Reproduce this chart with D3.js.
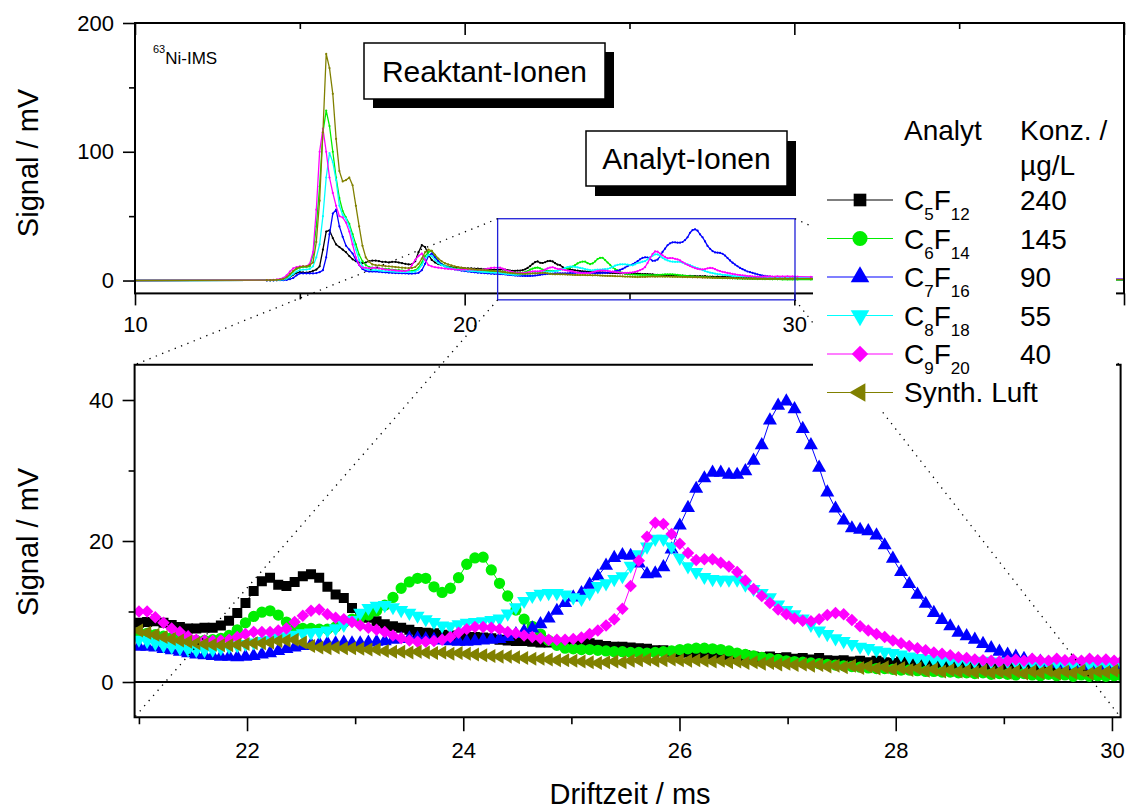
<!DOCTYPE html>
<html><head><meta charset="utf-8">
<script src="https://cdn.jsdelivr.net/npm/d3@7"></script>
<style>
body{margin:0;background:#fff}
svg{font-family:"Liberation Sans",Arial,sans-serif}
</style>
</head><body>
<svg id="c" width="1130" height="809"></svg>
<script>
// ---------------- DATA ----------------
const seriesNames = ["C5F12","C6F14","C7F16","C8F18","C9F20","Synth. Luft"];
const formulaParts = [["C","5","F","12"],["C","6","F","14"],["C","7","F","16"],["C","8","F","18"],["C","9","F","20"],null];
const concentrations = ["240","145","90","55","40",""];
const seriesColors = ["#000000","#00ee00","#0000ff","#00ffff","#ff00ff","#808000"];
const seriesSymbols = ["square","circle","triUp","triDown","diamond","triLeft"];

const topYTicks = [0,100,200], topYMinor = [50,150];
const topXTicks = [10,20,30,40], topXMinor = [15,25,35];
const topXLabels = ["10","20","30",""];
const botYTicks = [0,20,40], botYMinor = [10,30];
const botXTicks = [22,24,26,28,30], botXMinor = [21,23,25,27,29];

// early part of the spectra (top panel only): t = 10, then 14.0 ... 20.9 step 0.1
const earlyTimes = [10].concat(d3.range(70).map(i => +(14 + i*0.1).toFixed(1)));
const c5f12Early = [0,
 0.2,0.2,0.3,0.3,0.4,0.6,1.2,2.5,4.5,6.0,
 6.5,6.3,6.2,6.6,7.5,8.5,11,24,38,39,
 33,28,26,24,22,19,16.5,15,14,13.5,
 14,15,15.5,15.5,15,14.5,14.5,14,14.5,14.5,
 14,13.5,13,12.5,12.5,15,22,27.5,26,20,
 16,14,12.8,12,11.3,10.8,10.4,10.1,9.9,9.8,
 9.6,9.5,9.4,9.3,9.2,9.0,8.9,8.8,8.6,8.5];
const c6f14Early = [0,
 0.2,0.2,0.3,0.4,0.6,1.0,2.0,4.0,7.0,9.0,
 10,10.5,10.5,11,20,42,73,115,132,120,
 100,80,64,54,49,44,36,28,20,15,
 12,10.5,10,9.8,9.5,9.2,9,8.8,8.5,8.2,
 8,7.8,7.6,7.5,7.5,8,10,14,19,22,
 23,19,15,13,11.5,10.5,10,9.5,9,8.7,
 8.4,8.2,8,7.8,7.6,7.5,7.4,7.3,7.2,7.1];
const c7f16Early = [0,
 0.1,0.1,0.1,0.2,0.2,0.3,0.5,1.0,2.0,4.0,
 5.5,5.5,5.5,5.5,5.5,5.8,6.5,8,18,36,
 52,55,42,34,27,24,21,16,12,9,
 7.5,7,7,7,6.8,6.5,6.3,6.1,6,5.8,
 5.7,5.6,5.5,5.4,5.4,5.5,6,8,13,19,
 21,18,15,12.5,11,10,9.2,8.6,8.1,7.7,
 7.3,7,6.7,6.4,6.1,5.9,5.7,5.5,5.3,5.1];
const c8f18Early = [0,
 0.2,0.2,0.3,0.3,0.5,0.8,1.5,3,5,7,
 8,8.5,8.5,9,11,18,28,50,80,99,
 92,78,58,51,48,42,33,24,16,11,
 9,8.5,8,8,7.8,7.5,7.3,7.2,7,6.8,
 6.7,6.6,6.5,6.5,6.6,7,8.5,12,17,20,
 19,16,13.5,12,11,10,9.4,8.9,8.5,8.2,
 7.9,7.6,7.4,7.2,7,6.8,6.6,6.4,6.2,6.1];
const c9f20Early = [0,
 0.3,0.4,0.5,0.8,1.2,2,4,7,9.5,10.5,
 11,11,11,13,22,55,100,118,100,80,
 68,58,50,49,45,38,28,18,12,10,
 10,9.5,9.8,10,9.5,9,8.5,8.2,8,7.8,
 7.6,7.4,7.3,8,12,16,19,21,16,12,
 11,10.3,10,9.6,9.3,9,8.8,8.6,8.5,8.4,
 8.4,8.5,8.6,8.5,8.3,8.2,8.6,9.2,9.8,10.0];
const luftEarly = [0,
 0.3,0.3,0.4,0.5,0.8,1.2,2.5,5,7.5,9.5,
 10.5,11,11,12,14,30,62,115,176,165,
 145,110,85,77,78,80,74,58,42,27,
 18,14.5,12.5,12,11.8,11.5,11.2,11,10.8,10.5,
 10.2,10,9.8,9.7,9.8,10.5,13,17,22,24,
 23,20,17,15,13.5,12.5,11.7,11,10.5,10,
 9.6,9.3,9,8.7,8.5,8.3,8.1,7.9,7.7,7.5];

// detailed part (both panels): 121 samples from 21 ms
const detailTimes = d3.range(121).map(i => 21 + i*0.0758);
const c5f12Detail = [8.4,8.5,8.6,8.4,8.1,7.8,7.6,7.6,7.7,7.7,
 8.0,8.7,9.8,11.2,12.9,14.3,14.8,13.8,13.6,14.2,
 15.0,15.3,14.8,13.5,12.4,11.9,10.5,9.6,9.1,8.6,
 8.2,7.9,7.7,7.4,7.1,7.0,6.9,6.7,6.6,6.5,
 6.4,6.4,6.3,6.2,6.0,5.9,5.8,5.8,5.7,5.6,
 5.6,5.5,5.5,5.6,5.4,5.5,5.3,5.1,5.0,5.0,
 4.9,4.8,4.7,4.5,4.5,4.3,4.2,4.2,4.1,4.0,
 3.9,4.0,3.8,3.7,3.8,3.6,3.5,3.6,3.4,3.5,
 3.3,3.4,3.2,3.4,3.1,3.0,3.1,2.9,3.0,2.8,
 3.0,2.8,2.7,2.9,2.6,2.8,2.6,2.5,2.7,2.5,
 2.4,2.6,2.3,2.5,2.3,2.2,2.4,2.2,2.1,2.3,
 2.0,2.2,2.0,2.1,1.9,2.1,1.9,2.0,1.8,2.0,
 1.9];
const c6f14Detail = [7.0,6.9,6.7,6.5,6.3,6.2,6.0,5.9,5.9,6.0,
 6.2,6.6,7.4,8.4,9.3,9.9,10.1,9.5,8.5,7.8,
 7.6,7.6,7.5,7.5,7.8,8.4,8.9,9.2,9.5,10.1,
 10.9,12.0,13.3,14.2,14.7,14.7,13.5,12.7,13.3,14.8,
 16.7,17.6,17.7,15.9,14.0,12.2,10.2,8.9,7.9,6.8,
 5.9,5.2,4.8,4.7,4.6,4.6,4.5,4.4,4.3,4.3,
 4.2,4.2,4.1,4.2,4.3,4.4,4.6,4.7,4.8,4.8,
 4.7,4.6,4.4,4.1,3.9,3.7,3.5,3.3,3.2,3.0,
 2.9,2.8,2.7,2.6,2.5,2.4,2.3,2.2,2.1,2.0,
 1.9,1.9,1.8,1.7,1.7,1.6,1.5,1.5,1.4,1.4,
 1.3,1.3,1.2,1.3,1.1,1.2,1.1,1.0,1.2,1.0,
 0.9,1.1,0.9,1.0,0.8,1.0,0.8,0.9,0.8,0.9,
 0.8];
const c7f16Detail = [5.0,5.0,4.9,4.7,4.5,4.3,4.1,3.9,3.8,3.7,
 3.6,3.6,3.5,3.6,3.7,3.9,4.1,4.4,4.7,4.9,
 5.1,5.3,5.4,5.5,5.5,5.6,5.5,5.5,5.6,5.7,
 5.8,6.0,6.1,6.2,6.2,6.1,6.0,5.9,5.8,5.7,
 5.7,5.8,5.9,6.0,6.1,6.4,6.8,7.2,7.6,8.2,
 9.0,10.1,11.2,12.0,12.6,13.8,15.0,16.5,17.6,18.0,
 17.9,16.8,15.3,15.4,16.3,18.8,22.2,24.7,27.4,28.9,
 29.7,29.7,29.4,29.4,29.9,31.4,33.6,37.1,39.2,39.8,
 38.7,35.9,33.6,30.4,26.9,24.6,22.9,21.8,21.6,21.4,
 20.8,19.4,17.5,15.6,13.9,12.4,11.1,9.8,8.8,7.9,
 7.0,6.5,6.0,5.4,4.8,4.3,3.9,3.6,3.3,3.0,
 2.9,2.7,2.6,2.5,2.4,2.3,2.3,2.2,2.1,2.1,
 2.0];
const c8f18Detail = [6.0,5.8,5.5,5.2,5.0,4.8,4.6,4.5,4.5,4.6,
 4.8,5.0,5.2,5.4,5.6,5.8,6.0,6.3,6.5,6.7,
 6.9,7.0,7.1,7.3,7.6,8.1,8.8,9.8,10.5,10.8,
 10.9,10.6,10.2,9.8,9.4,8.9,8.5,8.0,7.9,8.2,
 8.4,8.5,8.6,8.8,9.0,9.7,10.6,11.5,12.2,12.5,
 12.6,12.6,12.4,12.0,11.8,12.6,13.6,14.0,14.6,15.0,
 16.5,18.1,19.2,20.3,20.3,19.2,17.6,16.4,15.6,14.9,
 14.6,14.5,14.5,14.5,13.8,13.2,12.6,12.0,11.0,10.2,
 9.6,9.0,8.1,7.3,6.8,6.2,5.8,5.4,5.0,4.8,
 4.5,4.3,4.1,3.9,3.6,3.4,3.3,3.2,3.1,3.1,
 3.0,3.0,2.9,3.0,2.9,2.8,2.9,2.8,2.7,2.8,
 2.7,2.6,2.7,2.6,2.5,2.6,2.5,2.5,2.6,2.5,
 2.5];
const c9f20Detail = [10.0,10.0,9.2,8.4,7.6,7.1,6.5,6.0,5.9,5.8,
 5.9,6.0,6.4,6.8,7.1,7.1,7.1,7.3,7.6,8.5,
 9.4,10.1,10.3,9.6,9.1,8.9,8.5,8.0,7.7,7.4,
 7.1,6.6,6.2,5.9,5.7,5.7,5.8,6.0,6.4,7.0,
 7.5,7.8,7.8,7.7,7.5,7.1,6.9,6.6,6.4,6.2,
 6.0,6.0,6.0,6.1,6.3,6.8,7.3,8.0,8.9,10.4,
 13.6,17.2,20.6,22.6,22.4,21.0,19.6,18.3,17.3,17.4,
 17.4,16.9,16.4,15.6,14.4,13.2,12.2,11.2,10.3,9.6,
 9.0,8.7,8.6,8.9,9.5,9.8,9.6,8.8,7.9,7.3,
 6.8,6.4,5.9,5.5,5.1,4.8,4.5,4.2,4.0,3.8,
 3.5,3.4,3.2,3.1,3.0,2.9,3.0,3.2,3.0,3.3,
 3.1,3.0,3.3,3.1,3.2,3.0,3.3,3.1,3.2,3.0,
 3.1];
const luftDetail = [7.3,7.0,6.7,6.4,6.1,5.9,5.7,5.5,5.4,5.3,
 5.2,5.2,5.3,5.4,5.5,5.5,5.6,5.8,5.9,6.0,
 5.6,5.1,4.9,4.8,4.9,4.8,4.8,4.7,4.6,4.6,
 4.4,4.3,4.3,4.2,4.3,4.2,4.1,4.2,4.0,4.1,
 4.0,3.9,3.8,3.7,3.6,3.6,3.5,3.4,3.3,3.3,
 3.2,3.1,3.1,3.0,2.9,2.8,2.7,2.8,2.9,2.8,
 3.0,3.1,3.2,3.0,3.1,3.2,3.1,3.0,3.1,3.0,
 2.9,3.0,2.8,2.9,2.7,2.8,2.6,2.7,2.5,2.6,
 2.4,2.5,2.3,2.4,2.2,2.3,2.1,2.3,2.0,2.2,
 1.9,2.1,1.8,2.0,1.7,1.9,1.6,1.8,1.5,1.7,
 1.5,1.6,1.4,1.6,1.3,1.5,1.3,1.5,1.2,1.5,
 1.3,1.6,1.2,1.5,1.3,1.6,1.2,1.5,1.4,1.6,
 1.5];

// late part (top panel only): 30.5 ... 40 step 0.5
const lateTimes = d3.range(20).map(i => 30.5 + i*0.5);
const c5f12Late = [1.9,1.8,1.8,1.7,1.7,1.6,1.6,1.5,1.5,1.4,1.4,1.3,1.3,1.2,1.2,1.1,1.1,1.0,1.0,1.0];
const c6f14Late = [0.8,0.8,0.7,0.7,0.7,0.6,0.6,0.6,0.5,0.5,0.5,0.5,0.4,0.4,0.4,0.4,0.4,0.3,0.3,0.3];
const c7f16Late = [1.9,1.8,1.7,1.6,1.5,1.5,1.4,1.3,1.3,1.2,1.2,1.1,1.1,1.0,1.0,1.0,0.9,0.9,0.9,0.8];
const c8f18Late = [2.4,2.3,2.2,2.1,2.0,1.9,1.8,1.7,1.6,1.6,1.5,1.4,1.4,1.3,1.3,1.2,1.2,1.1,1.1,1.0];
const c9f20Late = [2.8,2.7,2.6,2.5,2.4,2.3,2.2,2.1,2.0,1.9,1.8,1.8,1.7,1.6,1.6,1.5,1.4,1.3,1.1,1.0];
const luftLate  = [1.4,1.4,1.3,1.3,1.2,1.2,1.1,1.1,1.0,1.0,1.0,0.9,0.9,0.9,0.8,0.8,0.8,0.8,0.7,0.7];

const earlyAll  = [c5f12Early,c6f14Early,c7f16Early,c8f18Early,c9f20Early,luftEarly];
const detailAll = [c5f12Detail,c6f14Detail,c7f16Detail,c8f18Detail,c9f20Detail,luftDetail];
const lateAll   = [c5f12Late,c6f14Late,c7f16Late,c8f18Late,c9f20Late,luftLate];

// zoom window drawn in the top panel
const zoomWin = {t0:21, t1:30.02, v0:-15, v1:48};

// ---------------- DRAW ----------------
const svg = d3.select("#c");
const topX = d3.scaleLinear().domain([10,40]).range([135,1124]);
const topY = d3.scaleLinear().domain([-10,200]).range([293.4,23]);
const botX = d3.scaleLinear().domain([20.96,30.08]).range([134.6,1120.6]);
const botY = d3.scaleLinear().domain([-5,45]).range([717.25,364.75]);

const defs = svg.append("defs");
defs.append("clipPath").attr("id","clipTop").append("rect")
  .attr("x",topX.range()[0]).attr("y",topY.range()[1])
  .attr("width",topX.range()[1]-topX.range()[0]).attr("height",topY.range()[0]-topY.range()[1]);
defs.append("clipPath").attr("id","clipBot").append("rect")
  .attr("x",botX.range()[0]).attr("y",botY.range()[1])
  .attr("width",botX.range()[1]-botX.range()[0]).attr("height",botY.range()[0]-botY.range()[1]);

function symPath(name, size){
  if(name==="square") return {d:d3.symbol().type(d3.symbolSquare).size(size)(), r:0};
  if(name==="circle") return {d:d3.symbol().type(d3.symbolCircle).size(size)(), r:0};
  if(name==="triUp") return {d:d3.symbol().type(d3.symbolTriangle).size(size)(), r:0};
  if(name==="triDown") return {d:d3.symbol().type(d3.symbolTriangle).size(size)(), r:180};
  if(name==="triLeft") return {d:d3.symbol().type(d3.symbolTriangle).size(size)(), r:-90};
  if(name==="diamond") return {d:d3.symbol().type(d3.symbolSquare).size(size)(), r:45};
}
const plotSizes = {square:100, circle:100, triUp:85, triDown:85, diamond:78, triLeft:85};
const legSizes  = {square:160, circle:180, triUp:150, triDown:150, diamond:135, triLeft:150};

function styleAxis(g, fs){
  g.select(".domain").remove();
  g.selectAll(".tick line").attr("stroke","#000").attr("stroke-width",1.6);
  g.selectAll(".tick text").attr("fill","#000").style("font-size",fs+"px")
   .style("font-family",'"Liberation Sans",Arial,sans-serif');
}

// ----- top panel -----
const gTop = svg.append("g");
const topData = seriesNames.map((n,k) => {
  const e = earlyTimes.map((t,i)=>[t, earlyAll[k][i]]);
  const d = detailTimes.map((t,i)=>[t, detailAll[k][i]]);
  const l = lateTimes.map((t,i)=>[t, lateAll[k][i]]);
  return e.concat(d,l);
});
const gTopData = gTop.append("g").attr("clip-path","url(#clipTop)");
const lineTop = d3.line().x(d=>topX(d[0])).y(d=>topY(d[1]));
topData.forEach((pts,k)=>{
  gTopData.append("path").attr("d",lineTop(pts)).attr("fill","none")
    .attr("stroke",seriesColors[k]).attr("stroke-width",1.3);
  gTopData.append("g").selectAll("circle").data(pts.slice(1)).join("circle")
    .attr("cx",d=>topX(d[0])).attr("cy",d=>topY(d[1])).attr("r",1.1).attr("fill",seriesColors[k]);
});
const yT = gTop.append("g").attr("transform",`translate(${topX.range()[0]},0)`)
  .call(d3.axisLeft(topY).tickValues(topYTicks).tickSize(12).tickPadding(9).tickFormat(d3.format("d")));
styleAxis(yT,22);
const yTm = gTop.append("g").attr("transform",`translate(${topX.range()[0]},0)`)
  .call(d3.axisLeft(topY).tickValues(topYMinor).tickSize(6).tickFormat(""));
styleAxis(yTm,22);
const xT = gTop.append("g").attr("transform",`translate(0,${topY.range()[0]})`)
  .call(d3.axisBottom(topX).tickValues(topXTicks).tickSize(12).tickPadding(11)
    .tickFormat((d,i)=>topXLabels[i]));
styleAxis(xT,22);
const xTm = gTop.append("g").attr("transform",`translate(0,${topY.range()[0]})`)
  .call(d3.axisBottom(topX).tickValues(topXMinor).tickSize(6).tickFormat(""));
styleAxis(xTm,22);
const xTt = gTop.append("g").attr("transform",`translate(0,${topY.range()[1]})`)
  .call(d3.axisTop(topX).tickValues(topXTicks).tickSize(-12).tickFormat(""));
styleAxis(xTt,22);
const xTtm = gTop.append("g").attr("transform",`translate(0,${topY.range()[1]})`)
  .call(d3.axisTop(topX).tickValues(topXMinor).tickSize(-6).tickFormat(""));
styleAxis(xTtm,22);
gTop.append("rect").attr("x",topX.range()[0]).attr("y",topY.range()[1])
  .attr("width",topX.range()[1]-topX.range()[0]).attr("height",topY.range()[0]-topY.range()[1])
  .attr("fill","none").attr("stroke","#000").attr("stroke-width",2);

gTop.append("rect").attr("x",topX(zoomWin.t0)).attr("y",topY(zoomWin.v1))
  .attr("width",topX(zoomWin.t1)-topX(zoomWin.t0)).attr("height",topY(zoomWin.v0)-topY(zoomWin.v1))
  .attr("fill","none").attr("stroke","#2020d8").attr("stroke-width",1.3);

const ni = gTop.append("text").attr("x",153).attr("y",64).style("font-size","17px");
ni.append("tspan").attr("dy",-11).style("font-size","11px").text("63");
ni.append("tspan").attr("dy",11).text("Ni-IMS");

function shadowBox(x,y,w,h,off,label,fs){
  gTop.append("rect").attr("x",x+off[0]).attr("y",y+off[1]).attr("width",w).attr("height",h).attr("fill","#000");
  gTop.append("rect").attr("x",x).attr("y",y).attr("width",w).attr("height",h)
    .attr("fill","#fff").attr("stroke","#000").attr("stroke-width",1.5);
  gTop.append("text").attr("x",x+w/2).attr("y",y+h/2+fs*0.36).attr("text-anchor","middle")
    .style("font-size",fs+"px").text(label);
}
shadowBox(364,43,241,56,[9,9],"Reaktant-Ionen",30);
shadowBox(586,131,201,55,[9,10],"Analyt-Ionen",30);

// ----- bottom panel -----
const gBot = svg.append("g");
const gBotData = gBot.append("g").attr("clip-path","url(#clipBot)");
gBotData.append("line").attr("x1",botX.range()[0]).attr("x2",botX.range()[1])
  .attr("y1",botY(0)).attr("y2",botY(0)).attr("stroke","#000").attr("stroke-width",2);
const lineBot = d3.line().x(d=>botX(d[0])).y(d=>botY(d[1]));
seriesNames.forEach((n,k)=>{
  const pts = detailTimes.map((t,i)=>[t, detailAll[k][i]]);
  gBotData.append("path").attr("d",lineBot(pts)).attr("fill","none")
    .attr("stroke",seriesColors[k]).attr("stroke-width",1);
  const s = symPath(seriesSymbols[k], plotSizes[seriesSymbols[k]]);
  gBotData.append("g").selectAll("path").data(pts).join("path")
    .attr("d",s.d).attr("fill",seriesColors[k])
    .attr("transform",d=>`translate(${botX(d[0])},${botY(d[1])}) rotate(${s.r})`);
});
const yB = gBot.append("g").attr("transform",`translate(${botX.range()[0]},0)`)
  .call(d3.axisLeft(botY).tickValues(botYTicks).tickSize(12).tickPadding(9).tickFormat(d3.format("d")));
styleAxis(yB,22);
const yBm = gBot.append("g").attr("transform",`translate(${botX.range()[0]},0)`)
  .call(d3.axisLeft(botY).tickValues(botYMinor).tickSize(6).tickFormat(""));
styleAxis(yBm,22);
const xB = gBot.append("g").attr("transform",`translate(0,${botY.range()[0]})`)
  .call(d3.axisBottom(botX).tickValues(botXTicks).tickSize(14).tickPadding(11).tickFormat(d3.format("d")));
styleAxis(xB,22);
const xBm = gBot.append("g").attr("transform",`translate(0,${botY.range()[0]})`)
  .call(d3.axisBottom(botX).tickValues(botXMinor).tickSize(7).tickFormat(""));
styleAxis(xBm,22);
gBot.append("rect").attr("x",botX.range()[0]).attr("y",botY.range()[1])
  .attr("width",botX.range()[1]-botX.range()[0]).attr("height",botY.range()[0]-botY.range()[1])
  .attr("fill","none").attr("stroke","#000").attr("stroke-width",2);

const conn = [
  [topX(zoomWin.t0), topY(zoomWin.v0), botX.range()[0], botY.range()[0]],
  [topX(zoomWin.t0), topY(zoomWin.v1), botX.range()[0], botY.range()[1]],
  [topX(zoomWin.t1), topY(zoomWin.v1), botX.range()[1], botY.range()[1]],
  [topX(zoomWin.t1), topY(zoomWin.v0), botX.range()[1], botY.range()[0]]
];
svg.append("g").selectAll("line").data(conn).join("line")
  .attr("x1",d=>d[0]).attr("y1",d=>d[1]).attr("x2",d=>d[2]).attr("y2",d=>d[3])
  .attr("stroke","#000").attr("stroke-width",1.3).attr("stroke-dasharray","1.3,5.5");

svg.append("text").attr("transform","translate(38,163) rotate(-90)").attr("text-anchor","middle")
  .style("font-size","29px").text("Signal / mV");
svg.append("text").attr("transform","translate(38,542) rotate(-90)").attr("text-anchor","middle")
  .style("font-size","29px").text("Signal / mV");
svg.append("text").attr("x",630).attr("y",804).attr("text-anchor","middle")
  .style("font-size","29px").text("Driftzeit / ms");

// ----- legend -----
const gL = svg.append("g");
gL.append("rect").attr("x",813).attr("y",100).attr("width",303).attr("height",310).attr("fill","#fff");
gL.append("text").attr("x",904).attr("y",140).style("font-size","28px").text("Analyt");
gL.append("text").attr("x",1020).attr("y",140).style("font-size","28px").text("Konz. /");
gL.append("text").attr("x",1020).attr("y",175).style("font-size","28px").text("µg/L");
seriesNames.forEach((n,k)=>{
  const y = 200 + k*38.5;
  gL.append("line").attr("x1",827).attr("x2",893).attr("y1",y).attr("y2",y)
    .attr("stroke",seriesColors[k]).attr("stroke-width",1.2);
  const s = symPath(seriesSymbols[k], legSizes[seriesSymbols[k]]);
  gL.append("path").attr("d",s.d).attr("fill",seriesColors[k])
    .attr("transform",`translate(860,${y}) rotate(${s.r})`);
  const t = gL.append("text").attr("x",904).attr("y",y+10).style("font-size","28px");
  const fp = formulaParts[k];
  if(fp){
    t.append("tspan").text(fp[0]);
    t.append("tspan").attr("dy",10).style("font-size","17px").text(fp[1]);
    t.append("tspan").attr("dy",-10).text(fp[2]);
    t.append("tspan").attr("dy",10).style("font-size","17px").text(fp[3]);
  } else {
    t.attr("y",y+9).text(n);
  }
  if(concentrations[k]) gL.append("text").attr("x",1020).attr("y",y+10).style("font-size","28px").text(concentrations[k]);
});
</script>
</body></html>
